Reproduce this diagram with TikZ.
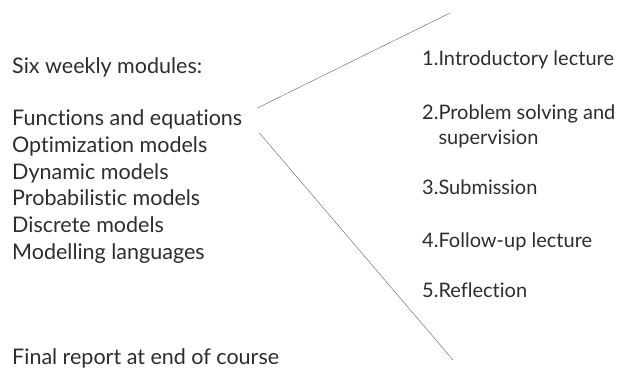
\documentclass[tikz,border=0pt]{standalone}
\usepackage{fontspec}
\setmainfont{Lato}[Ligatures=NoCommon]
\usepackage{xcolor}
\definecolor{textColor}{RGB}{45, 45, 45}
\definecolor{lineColor}{RGB}{95, 95, 95}

\begin{document}
\begin{tikzpicture}[x=1pt, y=-1pt,
    item/.style={anchor=base west, inner sep=0pt, text=textColor, font=\fontsize{21.5}{25}\selectfont, align=left},
    stepItem/.style={item, font=\fontsize{20}{25}\selectfont}]
    \useasboundingbox (0,0) rectangle (625,369);

    % Modules on the left
    \node[item] (title) at (12,73.5) {Six weekly modules:};
    \node[item] (func) at (12,125.5) {Functions and equations};
    \node[item] (optim) at (12,152.3) {Optimization models};
    \node[item] (dyn) at (12,179) {Dynamic models};
    \node[item] (prob) at (12,205.8) {Probabilistic models};
    \node[item] (disc) at (12,232.6) {Discrete models};
    \node[item] (lang) at (12,259.4) {Modelling languages};

    \node[item] (final) at (12,364) {Final report at end of course};

    % Weekly steps on the right
    \node[stepItem] (intro) at (422,66) {1.Introductory lecture};
    \node[stepItem] (solve) at (422,144.5) {2.Problem solving and\\\hphantom{2.}supervision};
    \node[stepItem] (submit) at (422,194.5) {3.Submission};
    \node[stepItem] (follow) at (422,247.5) {4.Follow-up lecture};
    \node[stepItem] (reflect) at (422,297) {5.Reflection};

    % Fork from the modules to the steps
    \coordinate (forkA) at ([xshift=15pt, yshift=17.5pt]func.base east);
    \coordinate (forkB) at ([xshift=17pt, yshift=-7.5pt]func.base east);
    \coordinate (topEnd) at (450,13);
    \coordinate (botEnd) at (453,360);

    \draw[lineColor, thin] (forkA) -- (topEnd);
    \draw[lineColor, thin] (forkB) -- (botEnd);
\end{tikzpicture}
\end{document}
